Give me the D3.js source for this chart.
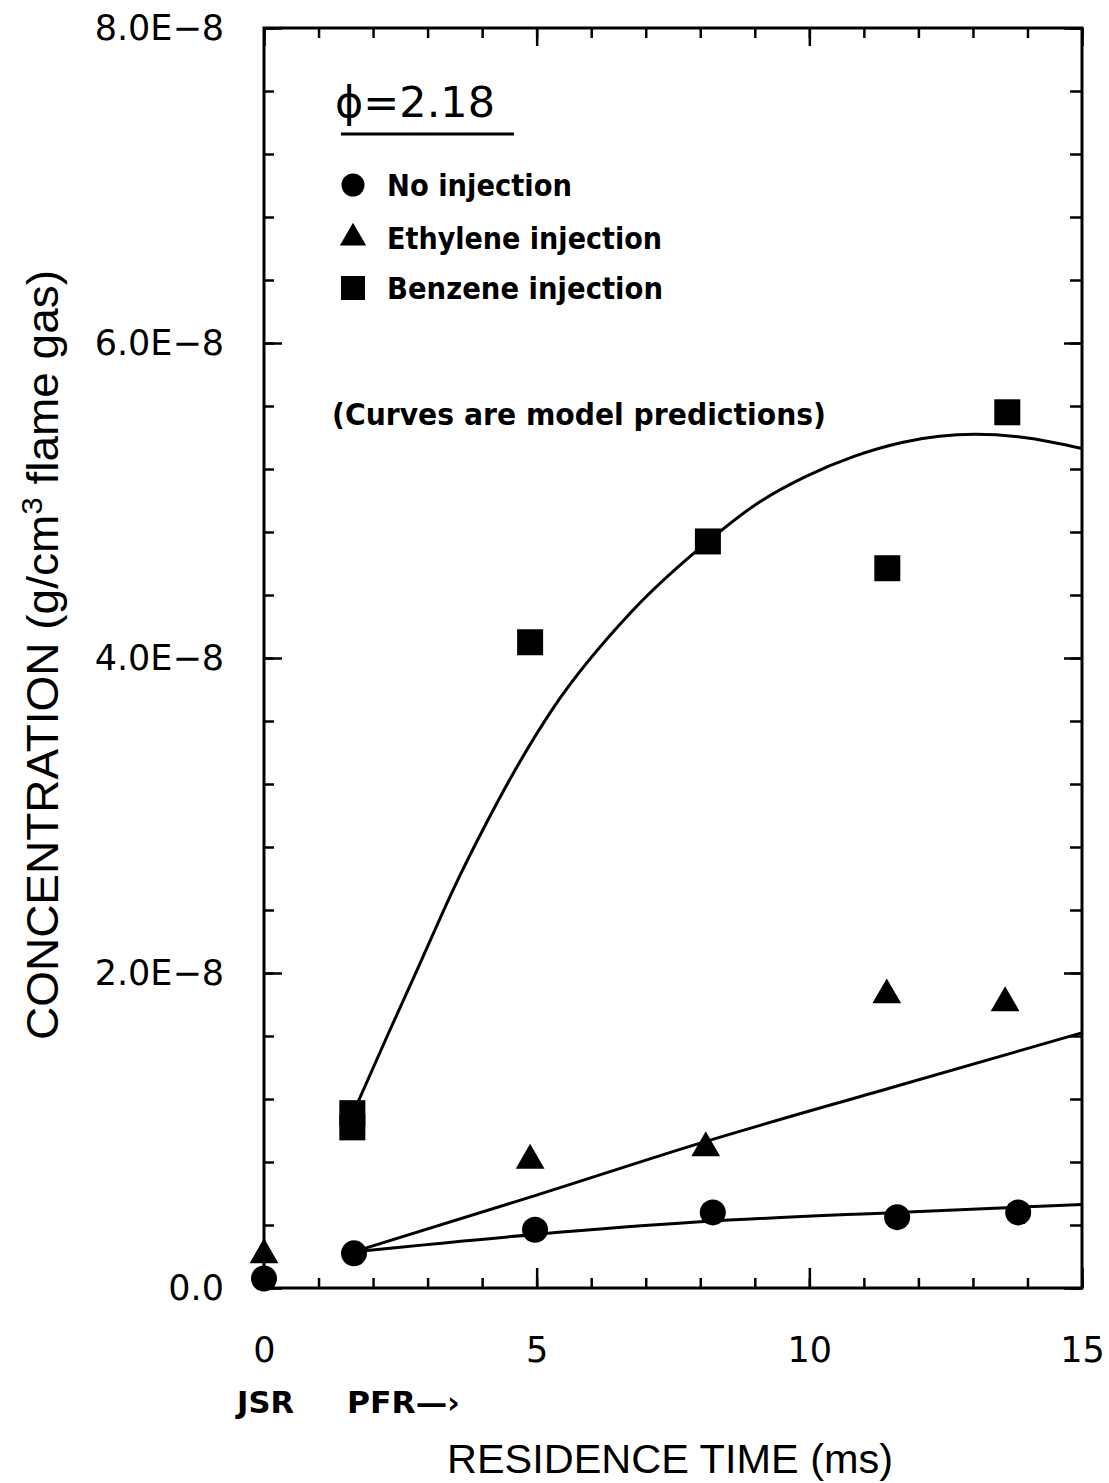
<!DOCTYPE html>
<html>
<head>
<meta charset="utf-8">
<script src="https://cdn.jsdelivr.net/npm/d3@7"></script>
<style>
  body { margin: 0; background: #fff; }
  svg { display: block; }
</style>
</head>
<body>
<svg id="chart" width="1109" height="1483"></svg>
<script>
// concentration values are in units of 1E-8 g/cm3
var noInjT = [0, 1.65, 4.97, 8.23, 11.61, 13.83];
var noInjC = [0.06, 0.22, 0.37, 0.48, 0.45, 0.48];
var ethT = [0, 4.88, 8.1, 11.42, 13.59];
var ethC = [0.21, 0.81, 0.89, 1.86, 1.81];
var benT = [1.62, 1.62, 4.88, 8.14, 11.43, 13.63];
var benC = [1.11, 1.02, 4.10, 4.74, 4.57, 5.56];

// model curves
var noCurveT = [1.65, 4.97, 8.0, 11.6, 15];
var noCurveC = [0.23, 0.34, 0.42, 0.48, 0.53];
var ethCurveT = [1.65, 5, 8, 11.48, 15];
var ethCurveC = [0.23, 0.59, 0.92, 1.27, 1.62];
var benCurveT = [1.62, 2.26, 2.86, 3.47, 4.09, 4.69, 5.30, 6.73, 8.14, 9.04, 9.92, 10.82, 11.72, 13.04, 13.94, 15];
var benCurveC = [1.10, 1.60, 2.06, 2.53, 2.96, 3.34, 3.68, 4.29, 4.74, 4.98, 5.15, 5.28, 5.37, 5.42, 5.40, 5.33];

var xMajor = [0, 5, 10, 15];
var yMajor = [0, 2, 4, 6, 8];
var xMinor = d3.range(0, 16);
var yMinor = d3.range(0, 21).map(function (i) { return i * 0.4; });

var svg = d3.select('#chart');
var plotL = 264, plotR = 1082, plotT = 28, plotB = 1288;

var x = d3.scaleLinear().domain([0, 15]).range([plotL, plotR]);
var y = d3.scaleLinear().domain([0, 8]).range([plotB, plotT]);

function zip(a, b) {
    return a.map(function (v, i) { return [v, b[i]]; });
}

var tickFont = '"DejaVu Sans", sans-serif';

function styleAxis(g) {
    g.select('.domain').remove();
    g.selectAll('line').attr('stroke', '#000').attr('stroke-width', 2.5);
    g.selectAll('text').attr('font-family', tickFont).attr('font-size', 35).attr('fill', '#000');
}

// bottom
svg.append('g').attr('transform', 'translate(0,' + plotB + ')')
    .call(d3.axisBottom(x).tickValues(xMinor).tickSize(-10).tickFormat(''))
    .call(styleAxis);
svg.append('g').attr('transform', 'translate(0,' + plotB + ')')
    .call(d3.axisBottom(x).tickValues(xMajor).tickSize(-20).tickPadding(49).tickFormat(d3.format('d')))
    .call(styleAxis);
// top
svg.append('g').attr('transform', 'translate(0,' + plotT + ')')
    .call(d3.axisTop(x).tickValues(xMinor).tickSize(-10).tickFormat(''))
    .call(styleAxis);
svg.append('g').attr('transform', 'translate(0,' + plotT + ')')
    .call(d3.axisTop(x).tickValues(xMajor).tickSize(-18).tickFormat(''))
    .call(styleAxis);
// left
svg.append('g').attr('transform', 'translate(' + plotL + ',0)')
    .call(d3.axisLeft(y).tickValues(yMinor).tickSize(-10).tickFormat(''))
    .call(styleAxis);
svg.append('g').attr('transform', 'translate(' + plotL + ',0)')
    .call(d3.axisLeft(y).tickValues(yMajor).tickSize(-18).tickPadding(40)
        .tickFormat(function (d) { return d === 0 ? '0.0' : d.toFixed(1) + 'E\u22128'; }))
    .call(styleAxis);
// right
svg.append('g').attr('transform', 'translate(' + plotR + ',0)')
    .call(d3.axisRight(y).tickValues(yMinor).tickSize(-12).tickFormat(''))
    .call(styleAxis);
svg.append('g').attr('transform', 'translate(' + plotR + ',0)')
    .call(d3.axisRight(y).tickValues(yMajor).tickSize(-18).tickFormat(''))
    .call(styleAxis);

// frame
svg.append('rect')
    .attr('x', plotL).attr('y', plotT)
    .attr('width', plotR - plotL).attr('height', plotB - plotT)
    .attr('fill', 'none').attr('stroke', '#000').attr('stroke-width', 3);

// curves
var line = d3.line()
    .x(function (d) { return x(d[0]); })
    .y(function (d) { return y(d[1]); })
    .curve(d3.curveMonotoneX);

[zip(noCurveT, noCurveC), zip(ethCurveT, ethCurveC), zip(benCurveT, benCurveC)].forEach(function (pts) {
    svg.append('path')
        .attr('d', line(pts))
        .attr('fill', 'none')
        .attr('stroke', '#000')
        .attr('stroke-width', 3);
});

// markers
var circleSym = d3.symbol().type(d3.symbolCircle).size(Math.PI * 13 * 13);
var triSym = d3.symbol().type(d3.symbolTriangle).size(360);
var sqSym = d3.symbol().type(d3.symbolSquare).size(26 * 26);

function plotPoints(ts, cs, sym) {
    svg.append('g').selectAll('path')
        .data(zip(ts, cs)).enter().append('path')
        .attr('d', sym)
        .attr('transform', function (d) { return 'translate(' + x(d[0]) + ',' + y(d[1]) + ')'; })
        .attr('fill', '#000');
}
plotPoints(benT, benC, sqSym);
plotPoints(ethT, ethC, triSym);
plotPoints(noInjT, noInjC, circleSym);

// legend
svg.append('text')
    .attr('x', 335).attr('y', 117)
    .attr('font-family', tickFont).attr('font-size', 42)
    .attr('textLength', 160).attr('lengthAdjust', 'spacingAndGlyphs')
    .text('\u03d5=2.18');
svg.append('line')
    .attr('x1', 341).attr('x2', 514).attr('y1', 134).attr('y2', 134)
    .attr('stroke', '#000').attr('stroke-width', 3);

var legendItems = [
    {label: 'No injection', sym: d3.symbol().type(d3.symbolCircle).size(Math.PI * 11.5 * 11.5), w: 185},
    {label: 'Ethylene injection', sym: d3.symbol().type(d3.symbolTriangle).size(300), w: 275},
    {label: 'Benzene injection', sym: d3.symbol().type(d3.symbolSquare).size(24 * 24), w: 276}
];
var legendY = [185, 238, 288];
legendItems.forEach(function (d, i) {
    svg.append('path')
        .attr('d', d.sym())
        .attr('transform', 'translate(353,' + legendY[i] + ')')
        .attr('fill', '#000');
    svg.append('text')
        .attr('x', 387).attr('y', legendY[i] + 11)
        .attr('font-family', tickFont).attr('font-weight', 'bold').attr('font-size', 30)
        .attr('textLength', d.w).attr('lengthAdjust', 'spacingAndGlyphs')
        .text(d.label);
});

svg.append('text')
    .attr('x', 332).attr('y', 425)
    .attr('font-family', tickFont).attr('font-weight', 'bold').attr('font-size', 30)
    .attr('textLength', 494).attr('lengthAdjust', 'spacingAndGlyphs')
    .text('(Curves are model predictions)');

// axis titles
svg.append('text')
    .attr('x', 237).attr('y', 1413)
    .attr('font-family', tickFont).attr('font-weight', 'bold').attr('font-size', 31)
    .attr('textLength', 57).attr('lengthAdjust', 'spacingAndGlyphs')
    .text('JSR');
svg.append('text')
    .attr('x', 347).attr('y', 1413)
    .attr('font-family', tickFont).attr('font-weight', 'bold').attr('font-size', 31)
    .attr('textLength', 113).attr('lengthAdjust', 'spacingAndGlyphs')
    .text('PFR\u2014\u203a');

svg.append('text')
    .attr('x', 447).attr('y', 1473)
    .attr('font-family', '"Liberation Sans", Arial, sans-serif').attr('font-size', 40)
    .attr('textLength', 446).attr('lengthAdjust', 'spacingAndGlyphs')
    .text('RESIDENCE TIME (ms)');

var yTitle = svg.append('text')
    .attr('transform', 'translate(58,1040) rotate(-90)')
    .attr('font-family', '"Liberation Sans", Arial, sans-serif').attr('font-size', 44)
    .attr('textLength', 770).attr('lengthAdjust', 'spacingAndGlyphs');
yTitle.append('tspan').text('CONCENTRATION (g/cm');
yTitle.append('tspan').attr('dy', -16).attr('font-size', 30).text('3');
yTitle.append('tspan').attr('dy', 16).text(' flame gas)');
</script>
</body>
</html>
